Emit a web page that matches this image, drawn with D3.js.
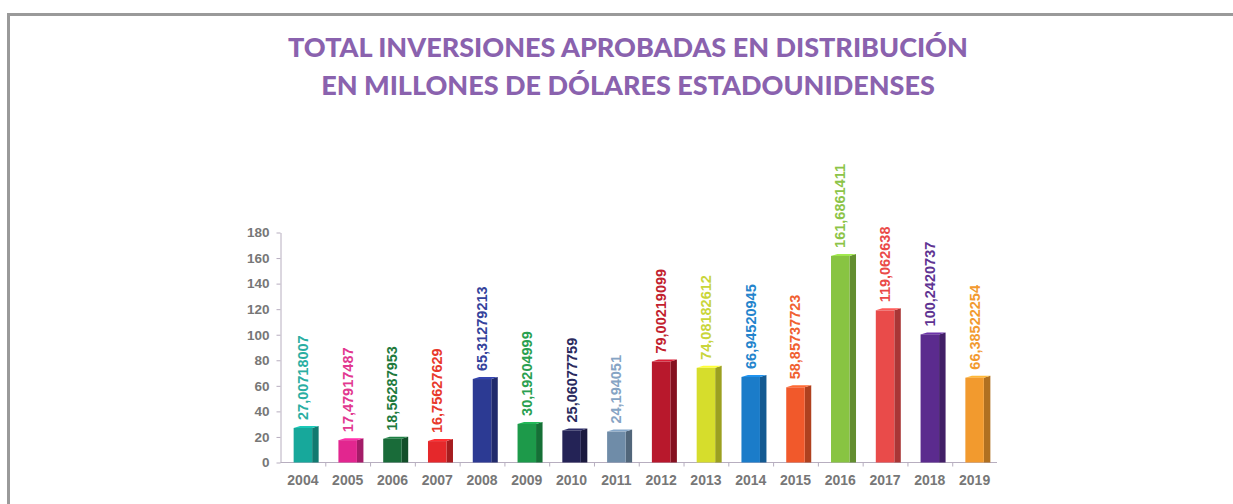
<!DOCTYPE html>
<html>
<head>
<meta charset="utf-8">
<script src="https://cdn.jsdelivr.net/npm/d3@7"></script>
<style>
    body { margin: 0; background: #fff; }
    svg { display: block; }
</style>
</head>
<body>
<div id="chartDiv"></div>
<script>

var years = ["2004", "2005", "2006", "2007", "2008", "2009", "2010", "2011",
    "2012", "2013", "2014", "2015", "2016", "2017", "2018", "2019"];

var values = [27.00718007, 17.47917487, 18.56287953, 16.75627629, 65.31279213, 30.19204999,
    25.06077759, 24.194051, 79.00219099, 74.08182612, 66.94520945, 58.85737723,
    161.6861411, 119.062638, 100.2420737, 66.38522254];

var labels = ["27,00718007", "17,47917487", "18,56287953", "16,75627629", "65,31279213", "30,19204999",
    "25,06077759", "24,194051", "79,00219099", "74,08182612", "66,94520945", "58,85737723",
    "161,6861411", "119,062638", "100,2420737", "66,38522254"];

var barColors = ["#17a89b", "#e2268f", "#196b39", "#e5282b", "#2c3a93", "#1d9a4a", "#242356", "#6f8ca8",
    "#b8182c", "#d6dd2c", "#1b7cc9", "#f1592b", "#88c442", "#e94b4a", "#5b2b8e", "#f29a2e"];

var labelColors = ["#2aaea2", "#e2388f", "#1f7a3d", "#e8392b", "#34429b", "#2aa050", "#2a2a5e", "#86a4c4",
    "#c21f2f", "#c9d53a", "#2484cc", "#f06030", "#8cc448", "#ea4a48", "#5e3392", "#f29a30"];

var yTicks = [0, 20, 40, 60, 80, 100, 120, 140, 160, 180];

var titleLines = ["TOTAL INVERSIONES APROBADAS EN DISTRIBUCIÓN",
    "EN MILLONES DE DÓLARES ESTADOUNIDENSES"];

var W = 1233, H = 504;

var svg = d3.select("#chartDiv").append("svg")
    .attr("width", W)
    .attr("height", H);

// frame
svg.append("path")
    .attr("d", "M8.5," + H + " V14.5 H" + W)
    .style("fill", "none")
    .style("stroke", "#9a9a9a")
    .style("stroke-width", 3);

// title
svg.selectAll(".title")
    .data(titleLines)
    .enter()
    .append("text")
    .attr("class", "title")
    .attr("x", 628)
    .attr("y", function (d, i) {
        return 57 + i * 38;
    })
    .attr("text-anchor", "middle")
    .style("font-family", "Lato, 'Open Sans', sans-serif")
    .style("font-weight", "900")
    .style("font-size", "27px")
    .style("fill", "#8a62ae")
    .text(function (d) { return d; });

var margin = {
        top: 232.5,
        left: 280.5
    },
    width = 997 - 280.5,
    height = 462.5 - 232.5;

var x = d3.scaleBand()
    .domain(years)
    .range([0, width]);

var y = d3.scaleLinear()
    .domain([0, 180])
    .range([height, 0]);

var g = svg.append("g")
    .attr("transform", "translate(" + margin.left + "," + margin.top + ")");

var axisColor = "#b7aebf";
var tickText = "#777";

// y axis
var yAxis = d3.axisLeft(y).tickValues(yTicks).tickSizeInner(4).tickSizeOuter(0).tickPadding(7);
var yg = g.append("g").attr("class", "y axis").call(yAxis);
yg.select(".domain").style("stroke", axisColor);
yg.selectAll(".tick line").style("stroke", axisColor);
yg.selectAll(".tick text")
    .style("font-family", "Arial, 'Liberation Sans', sans-serif")
    .style("font-weight", "bold")
    .style("font-size", "13.5px")
    .style("fill", tickText);

// x axis with ticks between bands
var xg = g.append("g")
    .attr("class", "x axis")
    .attr("transform", "translate(0," + height + ")");

xg.append("line")
    .attr("x1", 0)
    .attr("x2", width)
    .style("stroke", axisColor);

xg.selectAll(".sep")
    .data(years.slice(1))
    .enter()
    .append("line")
    .attr("class", "sep")
    .attr("x1", function (d) { return x(d) + 0.5; })
    .attr("x2", function (d) { return x(d) + 0.5; })
    .attr("y1", 0)
    .attr("y2", 4)
    .style("stroke", axisColor);

xg.selectAll(".yearLabel")
    .data(years)
    .enter()
    .append("text")
    .attr("class", "yearLabel")
    .attr("x", function (d) { return x(d) + x.bandwidth() / 2; })
    .attr("y", 22.5)
    .attr("text-anchor", "middle")
    .style("font-family", "Arial, 'Liberation Sans', sans-serif")
    .style("font-weight", "bold")
    .style("font-size", "14px")
    .style("fill", tickText)
    .text(function (d) { return d; });

// 3d bars
var frontW = 18.5, sideW = 6.5, rise = 2;

var bars = g.selectAll(".bar")
    .data(years)
    .enter()
    .append("g")
    .attr("class", "bar");

function x0(d) {
    return x(d) + x.bandwidth() / 2 - frontW / 2;
}

bars.append("path")
    .attr("d", function (d, i) {
        var a = x0(d) + frontW, t = y(values[i]);
        return "M" + a + "," + t + " L" + (a + sideW) + "," + (t - rise) +
            " L" + (a + sideW) + "," + height + " L" + a + "," + height + "Z";
    })
    .style("fill", function (d, i) {
        return d3.color(barColors[i]).darker(0.9);
    });

bars.append("path")
    .attr("d", function (d, i) {
        var a = x0(d), t = y(values[i]);
        return "M" + a + "," + t + " L" + (a + sideW) + "," + (t - rise) +
            " L" + (a + frontW + sideW) + "," + (t - rise) + " L" + (a + frontW) + "," + t + "Z";
    })
    .style("fill", function (d, i) {
        return d3.color(barColors[i]).brighter(0.5);
    });

bars.append("rect")
    .attr("x", function (d) { return x0(d); })
    .attr("y", function (d, i) { return y(values[i]); })
    .attr("width", frontW)
    .attr("height", function (d, i) { return height - y(values[i]); })
    .style("fill", function (d, i) { return barColors[i]; });

// value labels, rotated
bars.append("text")
    .attr("transform", function (d, i) {
        var cx = x0(d) + frontW / 2 + 5;
        var cy = y(values[i]) - 8;
        return "translate(" + cx + "," + cy + ") rotate(-90)";
    })
    .style("font-family", "Arial, 'Liberation Sans', sans-serif")
    .style("font-weight", "bold")
    .style("font-size", "14.5px")
    .style("fill", function (d, i) { return labelColors[i]; })
    .text(function (d, i) { return labels[i]; });

</script>
</body>
</html>
